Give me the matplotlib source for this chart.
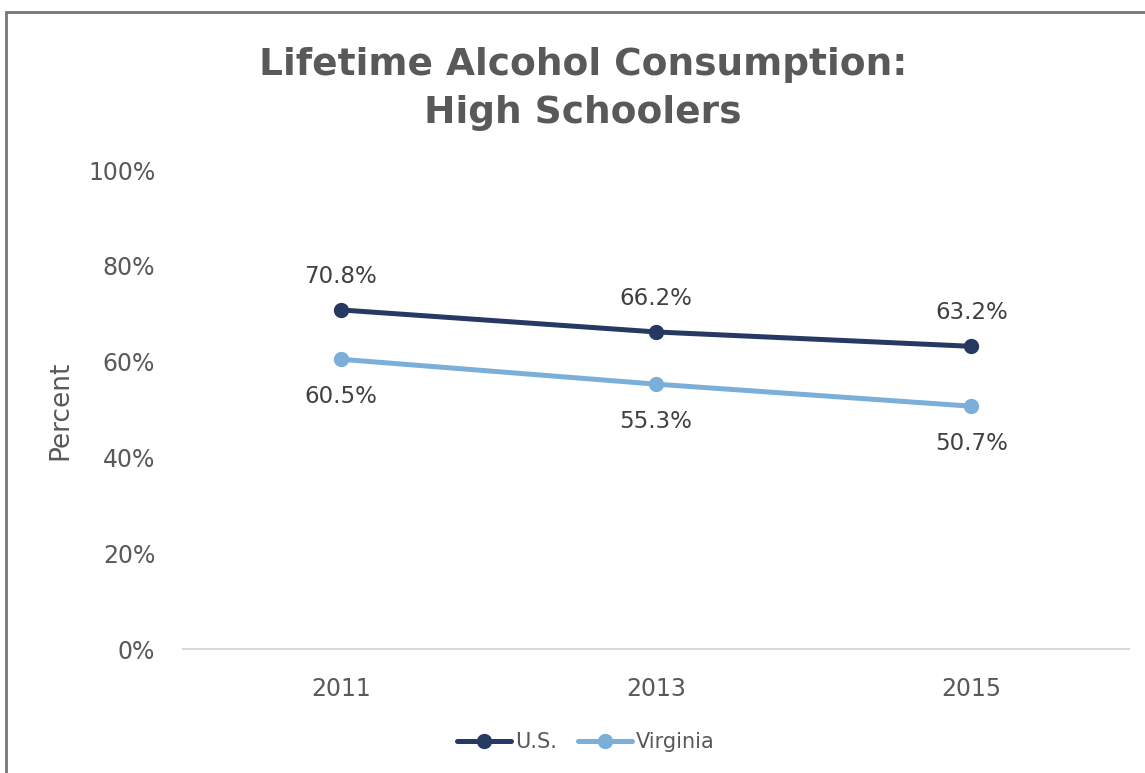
import matplotlib.pyplot as plt
from matplotlib.patches import Rectangle
from matplotlib.ticker import PercentFormatter

years = ["2011", "2013", "2015"]
us = [70.8, 66.2, 63.2]
virginia = [60.5, 55.3, 50.7]

dark = "#263963"
light = "#7BAFD9"
text_gray = "#595959"

plt.rcParams['font.family'] = ['DejaVu Sans']

fig = plt.figure(figsize=(11.45, 7.73), dpi=100)
ax = fig.add_axes([0.1598, 0.1604, 0.8262, 0.6196])

# outer frame of the chart area (runs off the right and bottom edges)
fig.patches.append(Rectangle((6 / 1145, -0.2), 1.2, 1.2 - 12 / 773,
                             transform=fig.transFigure, fill=False,
                             edgecolor="#767676", linewidth=2))

x = range(len(years))
ax.plot(x, us, color=dark, lw=3.6, marker="o", ms=10, label="U.S.",
        solid_capstyle="round")
ax.plot(x, virginia, color=light, lw=3.6, marker="o", ms=10, label="Virginia",
        solid_capstyle="round")

for i, v in enumerate(us):
    ax.annotate(f"{v:.1f}%", (i, v), xytext=(0, 24), textcoords="offset points",
                ha="center", va="center", fontsize=16.5, color="#404040")
for i, v in enumerate(virginia):
    ax.annotate(f"{v:.1f}%", (i, v), xytext=(0, -27), textcoords="offset points",
                ha="center", va="center", fontsize=16.5, color="#404040")

ax.set_xlim(-0.5, 2.5)
ax.set_ylim(0, 100)
ax.set_xticks(list(x))
ax.set_xticklabels(years)
ax.set_yticks([0, 20, 40, 60, 80, 100])
ax.yaxis.set_major_formatter(PercentFormatter(decimals=0))
ax.tick_params(length=0, labelsize=17, labelcolor=text_gray)
ax.tick_params(axis="x", pad=20)
ax.tick_params(axis="y", pad=20)

for side in ["top", "right", "left"]:
    ax.spines[side].set_visible(False)
ax.spines["bottom"].set_color("#D9D9D9")
ax.spines["bottom"].set_linewidth(1.5)

fig.text(60 / 1145, 1 - 410 / 773, "Percent", rotation=90, ha="center",
         va="center", fontsize=19, color=text_gray)

fig.text(583 / 1145, 1 - 89 / 773, "Lifetime Alcohol Consumption:\nHigh Schoolers",
         ha="center", va="center", fontsize=27, fontweight="bold",
         color=text_gray, linespacing=1.4)

leg = fig.legend(loc="center", bbox_to_anchor=(586 / 1145, 1 - 742 / 773),
                 ncol=2, frameon=False, fontsize=15, handlelength=2.6,
                 columnspacing=1.0, handletextpad=0.2)
for t in leg.get_texts():
    t.set_color(text_gray)

fig.savefig("out.png", dpi=100, facecolor="white")
